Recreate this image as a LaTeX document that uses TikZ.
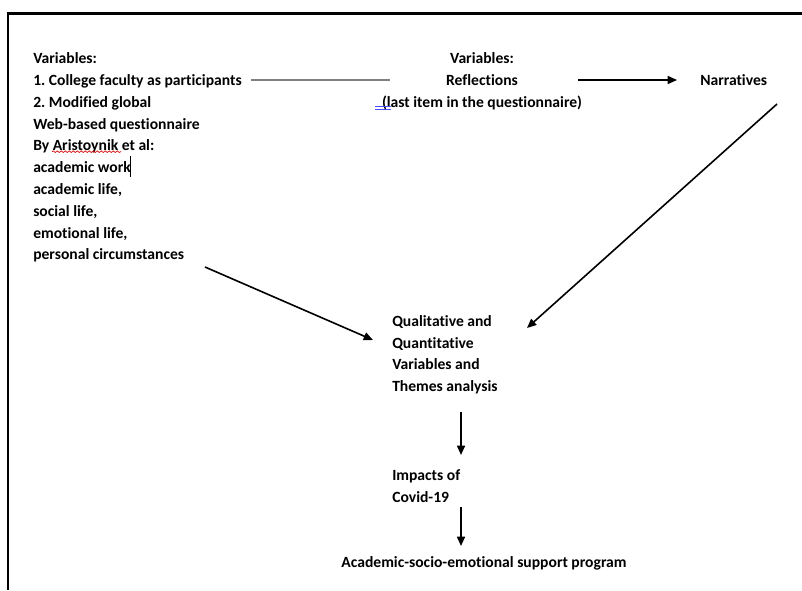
\documentclass[tikz,border=0pt]{standalone}
\usepackage{fontspec}
\setmainfont[Ligatures=NoCommon]{Carlito}
\usetikzlibrary{arrows.meta,decorations.pathmorphing}
\begin{document}
\begin{tikzpicture}[x=0.75pt,y=-0.75pt,
  txt/.style={font=\bfseries\fontsize{11.7}{16.35}\selectfont\frenchspacing, inner sep=0pt, align=left, anchor=north west},
  arr/.style={line width=1.2pt, -{Triangle[length=7pt,width=6pt]}},
  plain/.style={line width=1.1pt, draw=black!50},
  frameline/.style={line width=2.2pt}
]
\useasboundingbox (0,0) rectangle (802,590);
% frame
\coordinate (fbl) at (8,590);
\coordinate (ftl) at (8,13.5);
\coordinate (ftr) at (802,13.5);
\draw[frameline] (fbl) -- (ftl) -- (ftr);

% text blocks
\node[txt] (left) at (33,50) {\rule{0pt}{10pt}Variables:\\1. College faculty as participants\\2. Modified global\\Web-based questionnaire\\By Aristoynik et al:\\academic work\\academic life,\\social life,\\emotional life,\\personal circumstances};
\node[txt, align=center, anchor=north] (mid) at (482,50) {\rule{0pt}{10pt}Variables:\\Reflections\\(last item in the questionnaire)};
\node[txt] (narr) at (700,71.7) {\rule{0pt}{10pt}Narratives};
\node[txt] (qual) at (392,312.7) {\rule{0pt}{10pt}Qualitative and\\Quantitative\\Variables and\\Themes analysis};
\node[txt] (imp) at (392,466.7) {\rule{0pt}{10pt}Impacts of\\Covid-19};
\node[txt, anchor=north] (prog) at (484,553.4) {\rule{0pt}{10pt}Academic-socio-emotional support program};

% connector end points
\coordinate (g1) at (251,80);
\coordinate (g2) at (390,80);
\coordinate (r1) at (578,80);
\coordinate (r2) at (677,80);
\coordinate (n1) at (777,104);
\coordinate (n2) at (527,328);
\coordinate (l1) at (205,267);
\coordinate (l2) at (373,340);
\coordinate (q1) at (461,412);
\coordinate (q2) at (461,455);
\coordinate (i1) at (461,507);
\coordinate (i2) at (461,546);

\draw[plain] (g1) -- (g2);
\draw[arr] (r1) -- (r2);
\draw[arr] (n1) -- (n2);
\draw[arr] (l1) -- (l2);
\draw[arr] (q1) -- (q2);
\draw[arr] (i1) -- (i2);

% editor marks
\coordinate (w1) at (52,151.7);
\coordinate (w2) at (121,151.7);
\draw[red!85!black, line width=0.5pt, decorate, decoration={snake, amplitude=0.6pt, segment length=3pt}] (w1) -- (w2);
\coordinate (b1) at (375,106.7);
\coordinate (b2) at (390.7,106.7);
\coordinate (b3) at (375,109.7);
\coordinate (b4) at (390.7,109.7);
\draw[blue!70, line width=0.5pt] (b1) -- (b2) (b3) -- (b4);
\coordinate (c1) at (130.3,156);
\coordinate (c2) at (130.3,176.7);
\draw[line width=0.6pt] (c1) -- (c2);
\end{tikzpicture}
\end{document}
